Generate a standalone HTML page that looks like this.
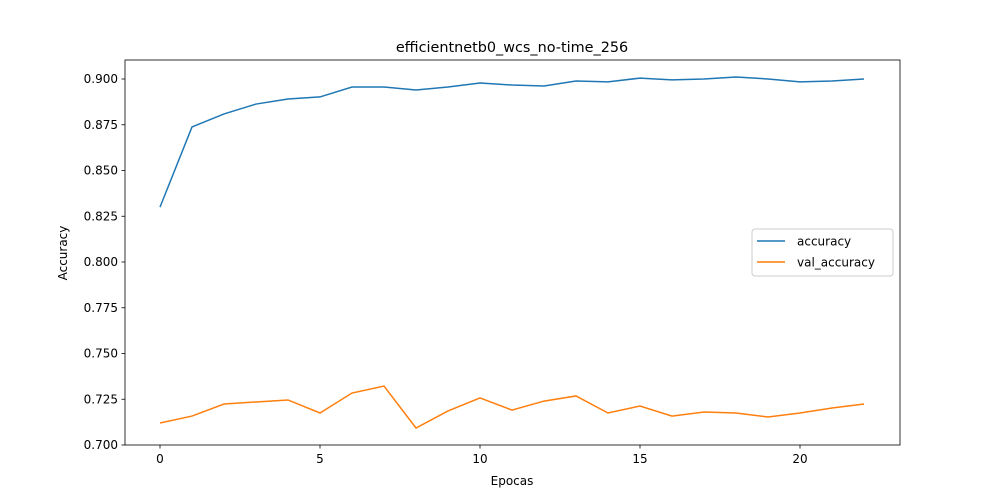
<!DOCTYPE html>
<html><head><meta charset="utf-8"><style>
body{margin:0;background:#fff;}
svg{display:block;font-family:"DejaVu Sans","Liberation Sans",sans-serif;}
</style></head><body>
<svg id="chart" width="1000" height="500"></svg>
<script>
const epochs=[0,1,2,3,4,5,6,7,8,9,10,11,12,13,14,15,16,17,18,19,20,21,22];
const accuracy=[0.830,0.8738,0.8809,0.8863,0.8891,0.8902,0.8956,0.8956,0.8940,0.8956,0.8978,0.8967,0.8962,0.8989,0.8984,0.9005,0.8995,0.9,0.9011,0.9,0.8984,0.8989,0.9];
const valAccuracy=[0.712,0.7158,0.7224,0.7235,0.7246,0.7175,0.7284,0.7322,0.7093,0.7186,0.7257,0.7191,0.724,0.7268,0.7175,0.7213,0.7158,0.718,0.7175,0.7153,0.7175,0.7202,0.7224];
const xTicks=[0,5,10,15,20];
const yTicks=[0.700,0.725,0.750,0.775,0.800,0.825,0.850,0.875,0.900];
const NS="http://www.w3.org/2000/svg";
const svg=document.getElementById('chart');
const L=125,R=900,T=60,B=445;
const xs=v=>160+v*32;
const ys=v=>445-(v-0.7)*1830;
function el(tag,attrs,parent){const e=document.createElementNS(NS,tag);for(const k in attrs)e.setAttribute(k,attrs[k]);(parent||svg).appendChild(e);return e;}
const frame=el('rect',{x:L,y:T,width:R-L,height:B-T,fill:'none',stroke:'#000','stroke-width':0.8});


xTicks.forEach(t=>{
  const ln=el('line',{x1:xs(t),x2:xs(t),y1:B,y2:B+3.5,stroke:'#000','stroke-width':0.8});
  
  
  const tx=el('text',{x:xs(t),y:B+18,'text-anchor':'middle','font-size':12});
  tx.textContent=t;
  
  
});
yTicks.forEach(t=>{
  const ln=el('line',{x1:L-3.5,x2:L,y1:ys(t),y2:ys(t),stroke:'#000','stroke-width':0.8});
  
  
  const tx=el('text',{x:L-7,y:ys(t)+4,'text-anchor':'end','font-size':12});
  tx.textContent=t.toFixed(3);
  
  
});
function line(data,color,name){
  const p=el('polyline',{points:data.map((v,i)=>xs(epochs[i])+','+ys(v)).join(' '),fill:'none',stroke:color,'stroke-width':1.5});
  
  
}
line(accuracy,'#1f77b4','accuracy-line');
line(valAccuracy,'#ff7f0e','val-accuracy-line');
const title=el('text',{x:512,y:52,'text-anchor':'middle','font-size':14.4});
title.textContent='efficientnetb0_wcs_no-time_256';


const xl=el('text',{x:512,y:485,'text-anchor':'middle','font-size':12});
xl.textContent='Epocas';


const yl=el('text',{x:67,y:253,'text-anchor':'middle','font-size':12,transform:'rotate(-90 67 253)'});
yl.textContent='Accuracy';


const lg=el('g',{});


el('rect',{x:752,y:229,width:141,height:47,rx:3,fill:'#fff',stroke:'#ccc'},lg);
[['accuracy','#1f77b4',241],['val_accuracy','#ff7f0e',262]].forEach(([n,c,y])=>{
  const g=el('g',{},lg);
  
  
  el('line',{x1:757,x2:785,y1:y,y2:y,stroke:c,'stroke-width':1.5},g);
  const t=el('text',{x:797,y:y+4.5,'font-size':12},g);t.textContent=n;
});
</script>
</body></html>
